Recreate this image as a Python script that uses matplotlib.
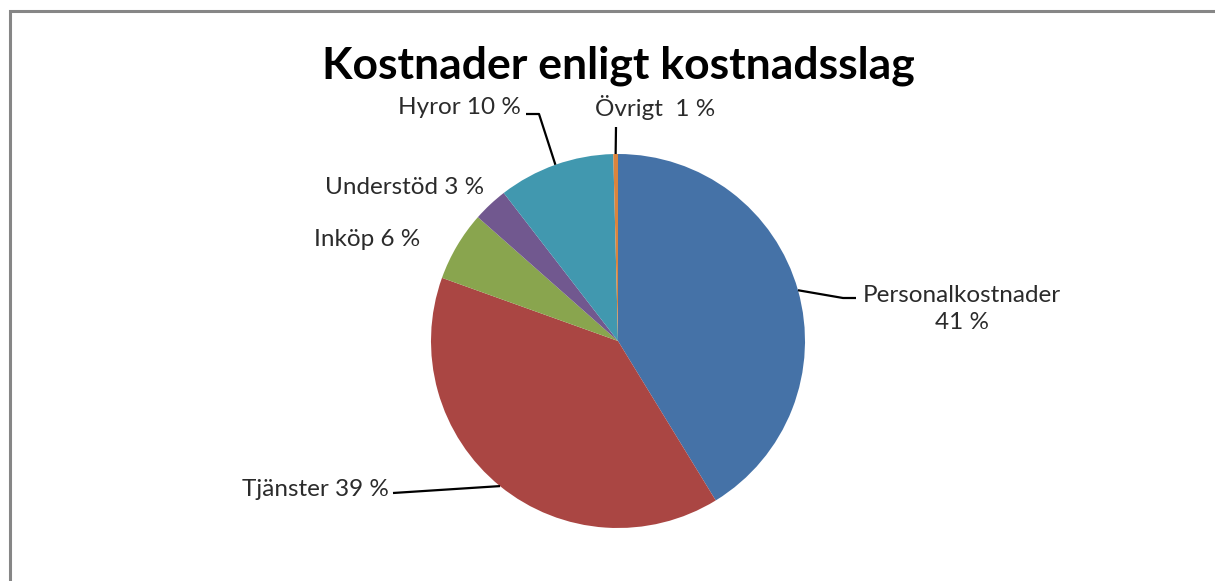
#!/usr/bin/env python3
# -*- coding: utf-8 -*-
"""Pie chart: Kostnader enligt kostnadsslag."""

import numpy as np
import matplotlib
matplotlib.use("Agg")
import matplotlib.pyplot as plt

# ---------------- Data ----------------
categories = ["Personalkostnader", "Tjänster", "Inköp", "Understöd", "Hyror", "Övrigt"]
shares = [41, 39, 6, 3, 10, 0.4]   # Övrigt slice is drawn very thin in the original
label_texts = ["Personalkostnader\n41 %", "Tjänster 39 %", "Inköp 6 %",
               "Understöd 3 %", "Hyror 10 %", "Övrigt  1 %"]
colors = ["#4572A7", "#AA4643", "#89A54E", "#71588F", "#4198AF", "#DB843D"]

# ---------------- Plot style ----------------
plt.rcParams["font.family"] = ["Lato", "DejaVu Sans"]
TEXT_COLOR = "#2b2b2b"
LABEL_SIZE = 17.5

W, H = 1215, 581
CENTER = (618, 341)
RADIUS = 187

# label layout in pixel coords (y down): text anchor, ha, elbow points of leader
label_layout = [
    dict(xy=(962, 309), ha="center", elbow=[(843, 298), (856, 298)]),
    dict(xy=(389, 489), ha="right", elbow=[(393, 493)]),
    dict(xy=(420, 240), ha="right", elbow=None),
    dict(xy=(484, 187), ha="right", elbow=None),
    dict(xy=(521, 107), ha="right", elbow=[(539, 114), (526, 114)]),
    dict(xy=(655, 108), ha="center", elbow=[(616, 127)]),
]

fig = plt.figure(figsize=(W / 100, H / 100), dpi=100)
ax = fig.add_axes([0, 0, 1, 1])

# y axis is flipped below, so counterclock=True turns clockwise on screen
wedges, _ = ax.pie(
    shares, colors=colors, startangle=-90, counterclock=True,
    center=CENTER, radius=RADIUS, frame=True,
    wedgeprops=dict(linewidth=0),
)
ax.set_xlim(0, W)
ax.set_ylim(H, 0)
ax.set_aspect("equal")
ax.axis("off")

for w, txt, lay in zip(wedges, label_texts, label_layout):
    mid = np.deg2rad((w.theta1 + w.theta2) / 2)
    ex = CENTER[0] + RADIUS * np.cos(mid)
    ey = CENTER[1] + RADIUS * np.sin(mid)
    if lay["elbow"]:
        xs = [ex] + [p[0] for p in lay["elbow"]]
        ys = [ey] + [p[1] for p in lay["elbow"]]
        ax.plot(xs, ys, color="black", lw=1.6, solid_capstyle="butt", zorder=3)
    ax.text(lay["xy"][0], lay["xy"][1], txt, ha=lay["ha"], va="center",
            multialignment="center", fontsize=LABEL_SIZE, color=TEXT_COLOR,
            linespacing=1.3)

ax.text(618, 66, "Kostnader enligt kostnadsslag", ha="center", va="center",
        fontsize=32, fontweight="bold", color="black")

# chart frame, only left and top edges fall inside the picture
ax.plot([9.5, 9.5, W + 5], [H + 5, 10.5, 10.5], color="#868686", lw=2.2,
        solid_joinstyle="miter", clip_on=False)

fig.savefig("out.png", dpi=100)
plt.close(fig)
